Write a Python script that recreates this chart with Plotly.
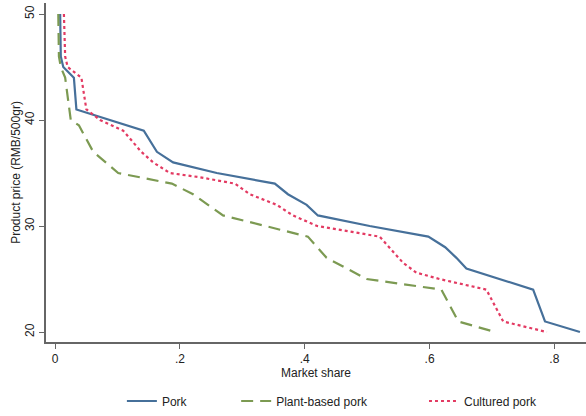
import plotly.graph_objects as go

# Market share (x) against product price (y) for three pork products
pork_share = [0.008, 0.009, 0.013, 0.030, 0.034, 0.142, 0.163, 0.189, 0.259, 0.352,
              0.373, 0.403, 0.421, 0.504, 0.598, 0.625, 0.643, 0.659, 0.766, 0.785, 0.841]
pork_price = [50, 46, 45, 44, 41, 39, 37, 36, 35, 34,
              33, 32, 31, 30, 29, 28, 27, 26, 24, 21, 20]

plant_share = [0.005, 0.006, 0.009, 0.016, 0.025, 0.038, 0.061, 0.101, 0.187, 0.221,
               0.269, 0.405, 0.435, 0.499, 0.619, 0.646, 0.705]
plant_price = [50, 46, 45, 44, 40, 39.5, 37, 35, 34, 33,
               31, 29, 27, 25, 24, 21, 20]

cultured_share = [0.014, 0.016, 0.020, 0.042, 0.050, 0.072, 0.109, 0.138, 0.157, 0.184,
                  0.232, 0.288, 0.312, 0.355, 0.381, 0.420, 0.520, 0.542, 0.558, 0.579,
                  0.616, 0.691, 0.718, 0.788]
cultured_price = [50, 46, 45, 44, 41, 40, 39, 37, 36, 35,
                  34.6, 34, 33, 32, 31, 30, 29, 27.6, 26.5, 25.6,
                  25, 24, 21, 20]

x_tick_vals = [0, 0.2, 0.4, 0.6, 0.8]
x_tick_text = ["0", ".2", ".4", ".6", ".8"]
y_tick_vals = [20, 30, 40, 50]

FONT = "Liberation Sans, Arial, sans-serif"
AXIS_COLOR = "#666666"

fig = go.Figure()
fig.add_trace(go.Scatter(
    x=pork_share, y=pork_price, mode="lines", name="Pork", showlegend=True,
    line=dict(color="#46709a", width=2.2), legend="legend"))
fig.add_trace(go.Scatter(
    x=plant_share, y=plant_price, mode="lines", name="Plant-based pork", showlegend=True,
    line=dict(color="#7c9a52", width=2.2, dash="12px,7px"), legend="legend2"))
fig.add_trace(go.Scatter(
    x=cultured_share, y=cultured_price, mode="lines", name="Cultured pork", showlegend=True,
    line=dict(color="#e33a62", width=2.2, dash="3px,3px"), legend="legend3"))

legend_common = dict(
    xref="container", yref="container", xanchor="left", yanchor="middle",
    y=0.036, orientation="h", bgcolor="rgba(0,0,0,0)", borderwidth=0,
    font=dict(family=FONT, size=12, color="#222222"))

fig.update_layout(
    width=586, height=416,
    margin=dict(l=46, r=0, t=3, b=74),
    paper_bgcolor="white", plot_bgcolor="white",
    font=dict(family=FONT, size=12, color="#222222"),
    showlegend=True,
    legend=dict(x=0.208, **legend_common),
    legend2=dict(x=0.403, **legend_common),
    legend3=dict(x=0.7235, **legend_common),
    xaxis=dict(
        range=[-0.0147, 0.8507], tickvals=x_tick_vals, ticktext=x_tick_text,
        showgrid=False, zeroline=False, showline=True, linecolor=AXIS_COLOR,
        linewidth=1.5, ticks="outside", ticklen=5, tickcolor=AXIS_COLOR,
        tickwidth=1.2, tickfont=dict(size=12),
        title=dict(text="Market share", standoff=2, font=dict(size=12))),
    yaxis=dict(
        range=[19.06, 51.04], tickvals=y_tick_vals, tickangle=-90,
        showgrid=False, zeroline=False, showline=True, linecolor=AXIS_COLOR,
        linewidth=1.5, ticks="outside", ticklen=5, tickcolor=AXIS_COLOR,
        tickwidth=1.2, tickfont=dict(size=12),
        title=dict(text="Product price (RMB/500gr)", standoff=0, font=dict(size=12))),
)

fig.write_html("out.html")
